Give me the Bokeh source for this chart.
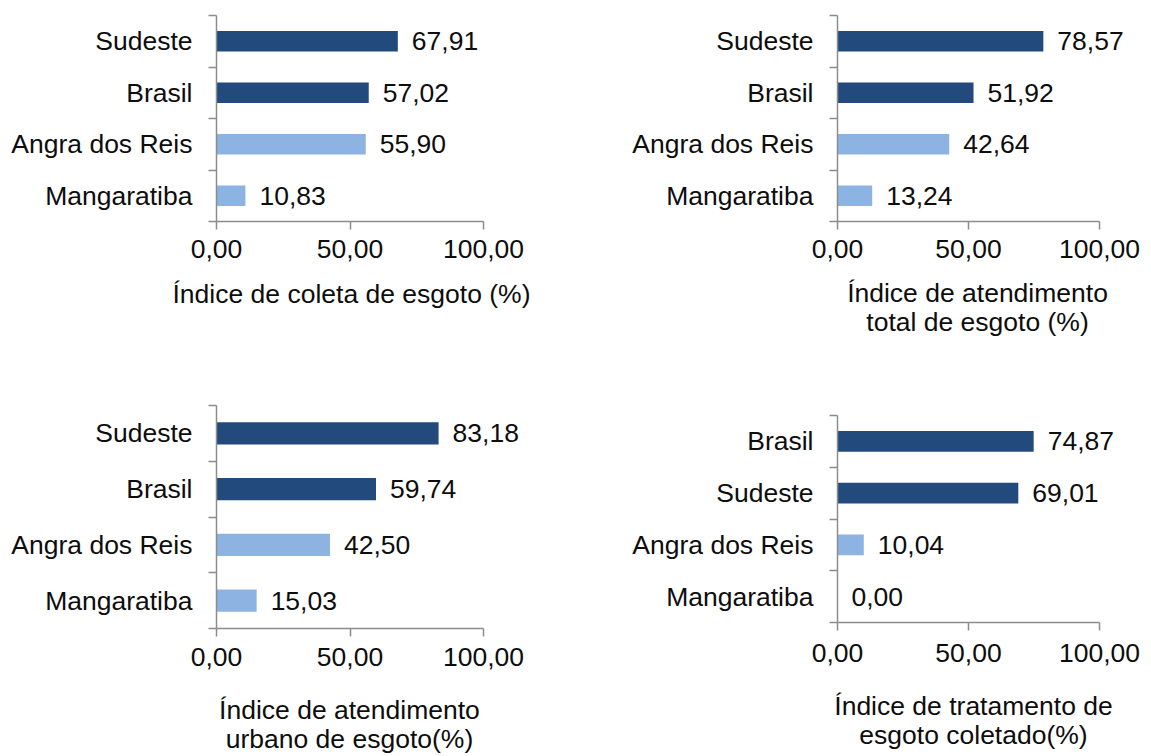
from bokeh.plotting import figure
from bokeh.models import (FactorRange, Range1d, LinearAxis, CategoricalAxis, FixedTicker,
                          LabelSet, ColumnDataSource)
from bokeh.core.properties import value
from bokeh.layouts import column, row
from bokeh.embed import file_html
from bokeh.resources import INLINE

# ---------------- data ----------------
p1_categories = ["Sudeste", "Brasil", "Angra dos Reis", "Mangaratiba"]
p1_values = [67.91, 57.02, 55.90, 10.83]
p1_title = "Índice de coleta de esgoto (%)"

p2_categories = ["Sudeste", "Brasil", "Angra dos Reis", "Mangaratiba"]
p2_values = [78.57, 51.92, 42.64, 13.24]
p2_title = "Índice de atendimento\ntotal de esgoto (%)"

p3_categories = ["Sudeste", "Brasil", "Angra dos Reis", "Mangaratiba"]
p3_values = [83.18, 59.74, 42.50, 15.03]
p3_title = "Índice de atendimento\nurbano de esgoto(%)"

p4_categories = ["Brasil", "Sudeste", "Angra dos Reis", "Mangaratiba"]
p4_values = [74.87, 69.01, 10.04, 0.00]
p4_title = "Índice de tratamento de\nesgoto coletado(%)"

x_ticks = [0, 50, 100]
x_tick_labels = ["0,00", "50,00", "100,00"]
x_axis_max = 100

# ---------------- style ----------------
FONT = "Liberation Sans"
FS = "26.5px"
TEXT = "#0d0d0d"
AXIS = "#8c8c8c"
DARK = "#234A7C"
LIGHT = "#8DB3E2"
region_colors = {"Sudeste": DARK, "Brasil": DARK, "Angra dos Reis": LIGHT, "Mangaratiba": LIGHT}


def make_panel(cats, vals, title, width, height, b_left, b_top, axis_px, fh,
               b_right, tick_standoff, title_standoff, title_center_px):
    factors = list(reversed(cats))
    fw = width - b_left - b_right
    # frame extends past the 100 mark so value labels are not clipped
    x_end = x_axis_max * fw / axis_px
    p = figure(width=width, height=height,
               y_range=FactorRange(factors=factors, range_padding=0),
               x_range=Range1d(0, x_end),
               x_axis_type=None, y_axis_type=None,
               output_backend="svg", toolbar_location=None,
               min_border_left=b_left, min_border_top=b_top,
               min_border_right=b_right,
               min_border_bottom=height - b_top - fh)
    p.outline_line_color = None
    p.background_fill_color = "white"
    p.border_fill_color = "white"

    # ticks at the edges between categories
    tick_axis = LinearAxis(ticker=FixedTicker(ticks=list(range(len(cats) + 1))),
                           axis_line_color=AXIS, axis_line_width=1.5,
                           major_tick_line_color=AXIS, major_tick_line_width=1.5,
                           major_tick_out=8, major_tick_in=0,
                           minor_tick_line_color=None,
                           major_label_text_font_size="0px",
                           major_label_text_color=None,
                           major_label_standoff=0)
    cat_axis = CategoricalAxis(axis_line_color=None, major_tick_line_color=None,
                               major_tick_out=0, major_tick_in=0,
                               major_label_standoff=16,
                               major_label_text_font=FONT,
                               major_label_text_font_size=FS,
                               major_label_text_color=TEXT)
    p.add_layout(tick_axis, "left")
    p.add_layout(cat_axis, "left")

    xaxis = LinearAxis(ticker=FixedTicker(ticks=x_ticks),
                       bounds=(0, x_axis_max),
                       major_label_overrides=dict(zip(x_ticks, x_tick_labels)),
                       axis_line_color=AXIS, axis_line_width=1.5,
                       major_tick_line_color=AXIS, major_tick_line_width=1.5,
                       major_tick_out=8, major_tick_in=0,
                       minor_tick_line_color=None,
                       major_label_standoff=tick_standoff,
                       major_label_text_font=FONT,
                       major_label_text_font_size=FS,
                       major_label_text_color=TEXT)
    p.add_layout(xaxis, "below")

    # axis title, centred where the original places it
    t_pos = round(x_axis_max * title_center_px / axis_px, 2)
    title_axis = LinearAxis(ticker=FixedTicker(ticks=[t_pos]),
                            major_label_overrides={t_pos: title},
                            axis_line_color=None, major_tick_line_color=None,
                            minor_tick_line_color=None,
                            major_tick_out=0, major_tick_in=0,
                            major_label_standoff=title_standoff,
                            major_label_text_font=FONT,
                            major_label_text_font_size=FS,
                            major_label_text_color=TEXT,
                            major_label_text_align="center",
                            major_label_text_line_height=0.97)
    p.add_layout(title_axis, "below")

    src = ColumnDataSource(dict(
        y=cats, right=vals,
        color=[region_colors[c] for c in cats],
        label=[f"{v:.2f}".replace(".", ",") for v in vals],
    ))
    p.hbar(y="y", left=0, right="right", height=0.4, fill_color="color",
           line_color=None, source=src)
    p.add_layout(LabelSet(x="right", y="y", text="label", source=src,
                          x_offset=14, text_baseline="middle", text_align="left",
                          text_font=value(FONT), text_font_size=value(FS),
                          text_color=TEXT))
    return p


pA = make_panel(p1_categories, p1_values, p1_title, 567, 370, 216, 15, 267, 206, 10, 10, 18, 135)
pB = make_panel(p2_categories, p2_values, p2_title, 581, 370, 270, 15, 262, 206, 5, 10, 17, 140)
pC = make_panel(p3_categories, p3_values, p3_title, 567, 386, 216, 35, 267, 224, 10, 11, 26, 133)
pD = make_panel(p4_categories, p4_values, p4_title, 581, 386, 270, 45, 262, 207, 5, 13, 26, 136)

layout = row(column(pA, pC), column(pB, pD))
open("out.html", "w").write(file_html(layout, INLINE))
